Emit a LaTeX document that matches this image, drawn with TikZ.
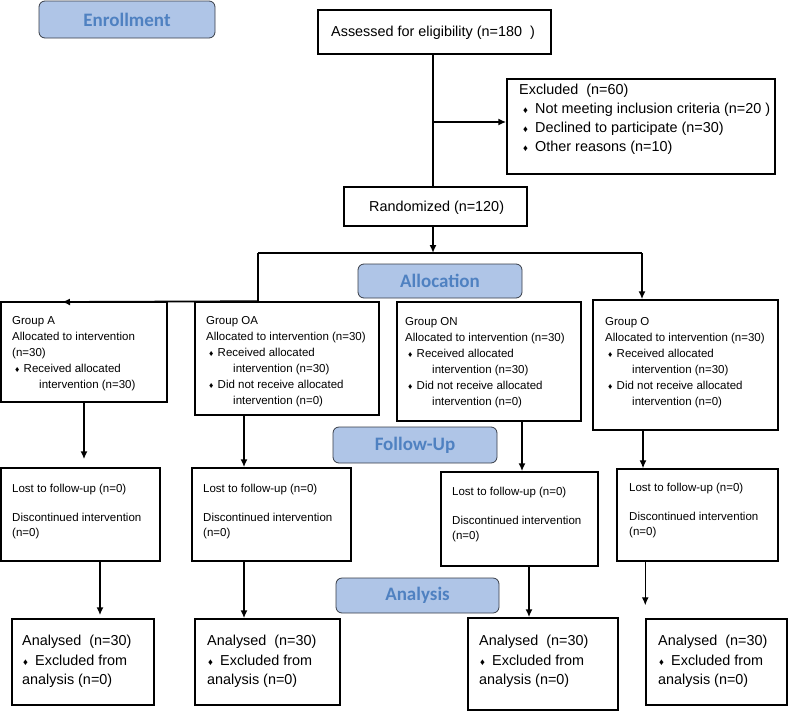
\documentclass[tikz,border=0pt]{standalone}
\usepackage{fontspec}
\setmainfont{Liberation Sans}
\newfontfamily\stagefont{Carlito}
\usetikzlibrary{arrows.meta,fit}

\definecolor{stagefill}{RGB}{175,197,231}
\definecolor{stagetext}{RGB}{79,129,193}
\definecolor{stageline}{RGB}{55,60,70}

\newcommand{\gbul}{\hspace*{3pt}\makebox[8.5pt][l]{\fontsize{8.5}{8}\selectfont ♦}}
\newcommand{\gind}{\hspace*{27pt}}
\newcommand{\xbul}{\hspace*{4pt}\makebox[12pt][l]{\fontsize{9.5}{8}\selectfont ♦}}
\newcommand{\abul}{\hspace*{1pt}\makebox[12pt][l]{\fontsize{9.5}{8}\selectfont ♦}}

\tikzset{
  box/.style={draw,line width=1.5pt,inner sep=0pt},
  stage/.style={draw=stageline,line width=0.8pt,fill=stagefill,rounded corners=6pt,inner sep=0pt,
    text=stagetext,font=\stagefont\bfseries\fontsize{19}{19}\selectfont},
  bigtxt/.style={anchor=north west,inner sep=0pt,align=left,font=\fontsize{14.4}{19}\selectfont},
  smalltxt/.style={anchor=north west,inner sep=0pt,align=left,font=\fontsize{11.5}{16}\selectfont},
  fuptxt/.style={smalltxt,font=\fontsize{11.5}{14.5}\selectfont},
  conn/.style={line width=1.8pt},
}

\begin{document}
\begin{tikzpicture}[x=1pt,y=-1pt,>={Latex[length=8pt,width=7pt]}]
\useasboundingbox (0,0) rectangle (789,712);

% stage labels
\node[stage,minimum width=176pt,minimum height=37pt] (enrol) at (127,19.5) {Enrollment};
\node[stage,minimum width=164pt,minimum height=34pt] (alloc) at (440,281) {Allocation};
\node[stage,minimum width=164pt,minimum height=36pt] (follow) at (415,445) {Follow-Up};
\node[stage,minimum width=163pt,minimum height=35pt] (analys) at (417.5,595.5) {Analysis};

% boxes
\node[box,fit={(318,10) (551,54)}] (assess) {};
\node[box,fit={(507,79) (775,174)}] (excl) {};
\node[box,fit={(344,187) (527,226)}] (rand) {};
\node[box,fit={(1,302) (167,402)}] (ga) {};
\node[box,fit={(195,302) (379,415)}] (goa) {};
\node[box,fit={(397,302) (581,421)}] (gon) {};
\node[box,fit={(593,300) (778,430)}] (go) {};
\node[box,fit={(1,468) (160,561)}] (fa) {};
\node[box,fit={(192,468) (351,561)}] (foa) {};
\node[box,fit={(441,472) (598,566)}] (fon) {};
\node[box,fit={(617,469) (778,561)}] (fo) {};
\node[box,fit={(12,619) (154,705)}] (aa) {};
\node[box,fit={(195,619) (340,705)}] (aoa) {};
\node[box,fit={(468,618) (618,710)}] (aon) {};
\node[box,fit={(646,619) (787,705)}] (ao) {};

% texts
\node[bigtxt,anchor=west] (assesst) at (331,33) {Assessed for eligibility (n=180\ \ )};
\node[bigtxt] (exclt) at (519,84) {Excluded\ \ (n=60)\\\xbul Not meeting inclusion criteria (n=20\ )\\
  \xbul Declined to participate (n=30)\\\xbul Other reasons (n=10)};
\node[bigtxt,anchor=west] (randt) at (369,208) {Randomized (n=120)};

\node[smalltxt] (gat) at (12,316) {Group A\\Allocated to intervention\\(n=30)\\
  \gbul Received allocated\\\gind intervention (n=30)};
\node[smalltxt] (goat) at (206,316) {Group OA\\Allocated to intervention (n=30)\\
  \gbul Received allocated\\\gind intervention (n=30)\\
  \gbul Did not receive allocated\\\gind intervention (n=0)};
\node[smalltxt] (gont) at (405,317) {Group ON\\Allocated to intervention (n=30)\\
  \gbul Received allocated\\\gind intervention (n=30)\\
  \gbul Did not receive allocated\\\gind intervention (n=0)};
\node[smalltxt] (got) at (605,317) {Group O\\Allocated to intervention (n=30)\\
  \gbul Received allocated\\\gind intervention (n=30)\\
  \gbul Did not receive allocated\\\gind intervention (n=0)};

\node[fuptxt] (fat) at (12,484) {Lost to follow-up (n=0)\\[14.5pt]Discontinued intervention\\(n=0)};
\node[fuptxt] (foat) at (203,484) {Lost to follow-up (n=0)\\[14.5pt]Discontinued intervention\\(n=0)};
\node[fuptxt] (font) at (452,487) {Lost to follow-up (n=0)\\[14.5pt]Discontinued intervention\\(n=0)};
\node[fuptxt] (fot) at (629,483) {Lost to follow-up (n=0)\\[14.5pt]Discontinued intervention\\(n=0)};

\node[bigtxt,font=\fontsize{14.4}{19.5}\selectfont] (aat) at (22,635) {Analysed\ \ (n=30)\\\abul Excluded from\\analysis (n=0)};
\node[bigtxt,font=\fontsize{14.4}{19.5}\selectfont] (aoat) at (207,635) {Analysed\ \ (n=30)\\\abul Excluded from\\analysis (n=0)};
\node[bigtxt,font=\fontsize{14.4}{19.5}\selectfont] (aont) at (479,635) {Analysed\ \ (n=30)\\\abul Excluded from\\analysis (n=0)};
\node[bigtxt,font=\fontsize{14.4}{19.5}\selectfont] (aot) at (658,635) {Analysed\ \ (n=30)\\\abul Excluded from\\analysis (n=0)};

% connectors
\coordinate (trunk) at (433,122);
\coordinate (hub) at (433,253);
\coordinate (hubl) at (258,253);
\coordinate (hubr) at (642,253);
\coordinate (gtip) at (62,302);
\draw[conn] (assess.south -| trunk) -- (rand.north -| trunk);
\draw[conn,->] (trunk) -- (trunk -| excl.west);
\draw[conn,->] (rand.south -| hub) -- (hub);
\draw[conn] (hubl) -- (hubr);
\draw[conn,->] (hubl) -- (hubl |- ga.north) -- (gtip);
\draw[conn,->] (hubr) -- (hubr |- go.north);

\coordinate (ca) at (84,0);
\coordinate (coa) at (244,0);
\coordinate (con) at (522,0);
\coordinate (co) at (643,0);
\draw[conn,->,shorten >=8pt] (ga.south -| ca) -- (fa.north -| ca);
\draw[conn,->] (goa.south -| coa) -- (foa.north -| coa);
\draw[conn,->] (gon.south -| con) -- (fon.north -| con);
\draw[conn,->,line width=1.2pt] (go.south -| co) -- (fo.north -| co);

\coordinate (xa) at (100,0);
\coordinate (xoa) at (244,0);
\coordinate (xon) at (529,0);
\draw[conn,->,shorten >=3pt] (fa.south -| xa) -- (aa.north -| xa);
\draw[conn,->] (foa.south -| xoa) -- (aoa.north -| xoa);
\draw[conn,->] (fon.south -| xon) -- (aon.north -| xon);
\draw[conn,->,line width=1.2pt,shorten >=13pt] (fo.south -| ao.north west) -- (ao.north west);

\end{tikzpicture}
\end{document}
